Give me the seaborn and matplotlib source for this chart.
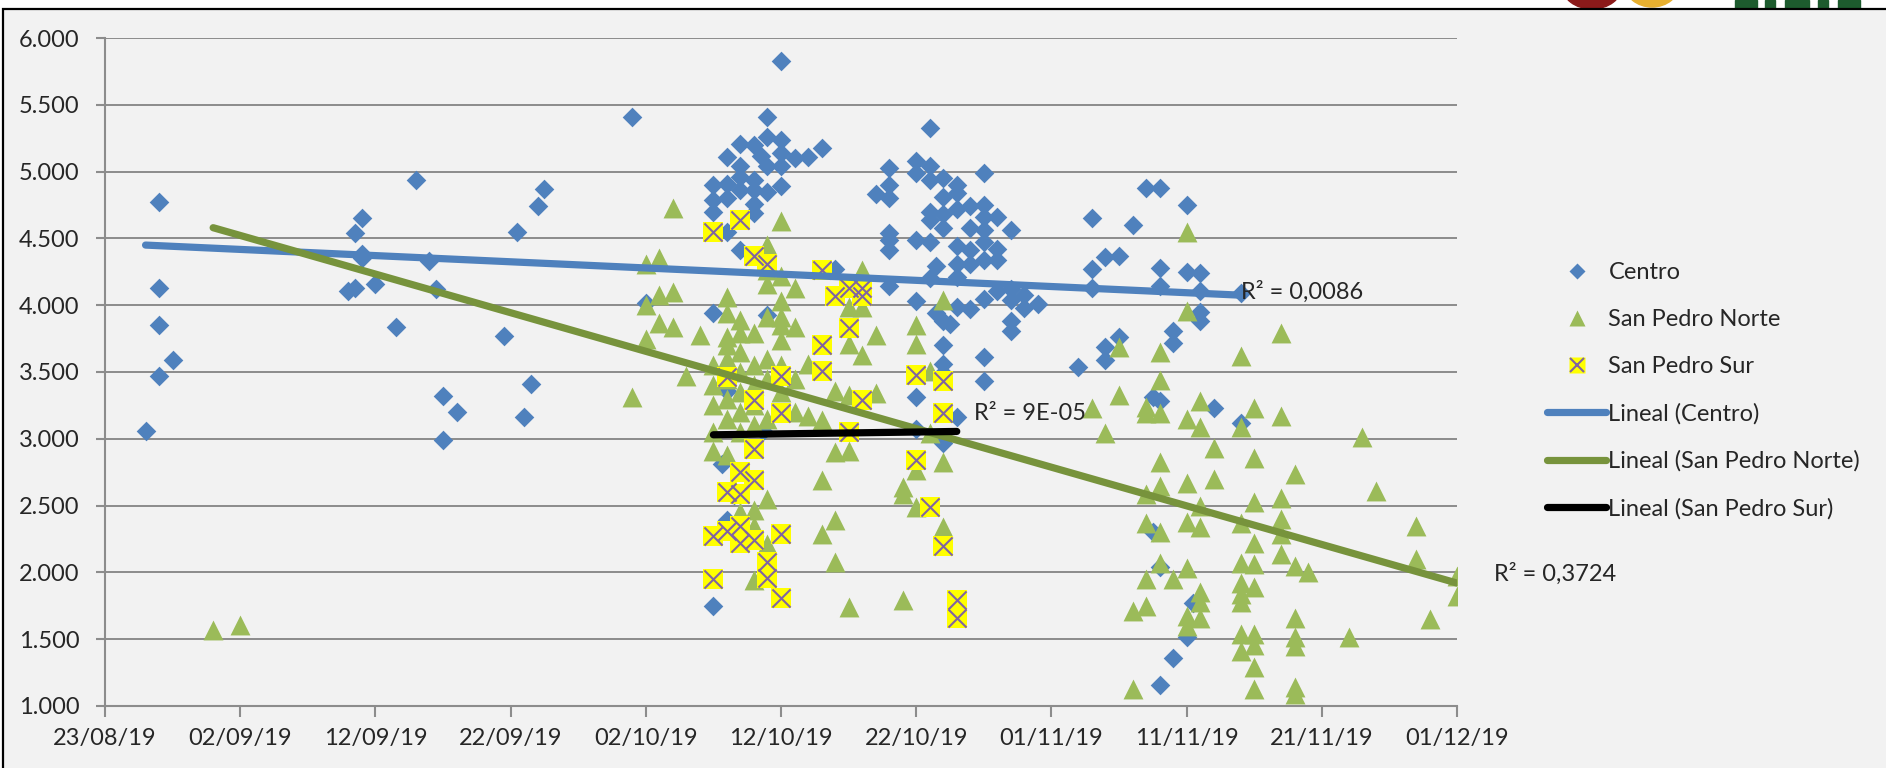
import matplotlib
matplotlib.use("Agg")
import matplotlib.pyplot as plt
import matplotlib.dates as mdates
from matplotlib.lines import Line2D
from matplotlib.patches import Rectangle, Ellipse
import seaborn as sns
import pandas as pd
import numpy as np

# (fecha mm-dd de 2019, valor)
centro = [
    ("08-26", 3.06),
    ("08-27", 4.77), ("08-27", 4.13), ("08-27", 3.85), ("08-27", 3.47),
    ("08-28", 3.59),
    ("09-10", 4.11), ("09-10 12:00", 4.13), ("09-10 12:00", 4.54),
    ("09-11", 4.65), ("09-11", 4.38), ("09-11", 4.35),
    ("09-12", 4.16), ("09-13 12:00", 3.84),
    ("09-15", 4.94), ("09-16", 4.33), ("09-16 12:00", 4.12),
    ("09-17", 3.32), ("09-17", 2.99), ("09-18", 3.20),
    ("09-21 12:00", 3.77), ("09-22 12:00", 4.55), ("09-23", 3.16), ("09-23 12:00", 3.41),
    ("09-24", 4.74), ("09-24 12:00", 4.87),
    ("10-01", 5.41), ("10-02", 4.02),
    ("10-07", 4.90), ("10-07", 4.79), ("10-07", 4.70), ("10-07", 3.94), ("10-07", 1.75), ("10-07 16:00", 2.81),
    ("10-08", 5.11), ("10-08", 4.91), ("10-08", 4.80), ("10-08", 4.55), ("10-08", 3.36), ("10-08", 2.39),
    ("10-08 12:00", 2.58),
    ("10-09", 5.21), ("10-09", 5.04), ("10-09", 4.96), ("10-09", 4.86), ("10-09", 4.41),
    ("10-10", 5.20), ("10-10", 4.94), ("10-10", 4.86), ("10-10", 4.76), ("10-10", 4.69),
    ("10-10 12:00", 5.12), ("10-10 16:00", 3.06),
    ("10-11", 5.41), ("10-11", 5.26), ("10-11", 5.04), ("10-11", 4.85), ("10-11", 3.93),
    ("10-12", 5.83), ("10-12", 5.24), ("10-12", 5.14), ("10-12", 5.04), ("10-12", 4.89),
    ("10-13", 5.10), ("10-14", 5.11), ("10-15", 5.18), ("10-16", 4.27),
    ("10-19", 4.83),
    ("10-20", 5.03), ("10-20", 4.90), ("10-20", 4.80), ("10-20", 4.54), ("10-20", 4.49), ("10-20", 4.41),
    ("10-20", 4.14),
    ("10-22", 5.08), ("10-22", 4.99), ("10-22", 4.49), ("10-22", 4.03), ("10-22", 3.31), ("10-22", 3.07),
    ("10-23", 5.33), ("10-23", 5.04), ("10-23", 4.94), ("10-23", 4.70), ("10-23", 4.64), ("10-23", 4.47),
    ("10-23", 4.20), ("10-23 12:00", 4.29), ("10-23 12:00", 3.94),
    ("10-24", 4.95), ("10-24", 4.81), ("10-24", 4.68), ("10-24", 4.58), ("10-24", 3.88), ("10-24", 3.70),
    ("10-24", 3.56), ("10-24", 3.49), ("10-24", 2.97), ("10-24 12:00", 3.86),
    ("10-25", 4.90), ("10-25", 4.84), ("10-25", 4.72), ("10-25", 4.44), ("10-25", 4.31), ("10-25", 4.21),
    ("10-25", 3.99), ("10-25", 3.16),
    ("10-26", 4.74), ("10-26", 4.58), ("10-26", 4.41), ("10-26", 4.31), ("10-26", 3.97),
    ("10-27", 4.99), ("10-27", 4.75), ("10-27", 4.66), ("10-27", 4.56), ("10-27", 4.47), ("10-27", 4.34),
    ("10-27", 4.05), ("10-27", 3.61), ("10-27", 3.43),
    ("10-28", 4.66), ("10-28", 4.42), ("10-28", 4.34), ("10-28", 4.11),
    ("10-29", 4.56), ("10-29", 4.12), ("10-29", 4.04), ("10-29", 3.88), ("10-29", 3.81),
    ("10-30", 4.08), ("10-30", 3.98), ("10-31", 4.01),
    ("11-03", 3.54),
    ("11-04", 4.65), ("11-04", 4.27), ("11-04", 4.13),
    ("11-05", 4.36), ("11-05", 3.69), ("11-05", 3.59),
    ("11-06", 4.37), ("11-06", 3.76),
    ("11-07", 4.60),
    ("11-08", 4.88), ("11-08 12:00", 3.31), ("11-08 12:00", 2.30),
    ("11-09", 4.88), ("11-09", 4.28), ("11-09", 4.14), ("11-09", 3.28), ("11-09", 2.04), ("11-09", 1.16),
    ("11-10", 3.81), ("11-10", 3.72), ("11-10", 1.36),
    ("11-11", 4.75), ("11-11", 4.25), ("11-11", 1.52), ("11-11 12:00", 1.77),
    ("11-12", 4.24), ("11-12", 4.11), ("11-12", 3.95), ("11-12", 3.88),
    ("11-13", 3.23),
    ("11-15", 4.09), ("11-15", 3.12),
]

norte = [
    ("08-31", 1.57), ("09-02", 1.61),
    ("10-01", 3.31),
    ("10-02", 4.31), ("10-02", 4.00), ("10-02", 3.75),
    ("10-03", 4.35), ("10-03", 4.08), ("10-03", 3.87),
    ("10-04", 4.73), ("10-04", 4.10), ("10-04", 3.84),
    ("10-05", 3.47), ("10-06", 3.78),
    ("10-07", 3.55), ("10-07", 3.40), ("10-07", 3.25), ("10-07", 3.05), ("10-07", 2.91),
    ("10-08", 4.06), ("10-08", 3.94), ("10-08", 3.76), ("10-08", 3.70), ("10-08", 3.60), ("10-08", 3.45),
    ("10-08", 3.30), ("10-08", 3.15), ("10-08", 2.88),
    ("10-09", 3.89), ("10-09", 3.79), ("10-09", 3.65), ("10-09", 3.50), ("10-09", 3.35), ("10-09", 3.20),
    ("10-09", 3.05), ("10-09", 2.45),
    ("10-10", 3.79), ("10-10", 3.55), ("10-10", 3.40), ("10-10", 3.25), ("10-10", 3.10), ("10-10", 2.47),
    ("10-10", 2.35), ("10-10", 1.94),
    ("10-11", 4.45), ("10-11", 4.26), ("10-11", 4.16), ("10-11", 3.91), ("10-11", 3.60), ("10-11", 3.45),
    ("10-11", 3.15), ("10-11", 2.55), ("10-11", 2.21),
    ("10-12", 4.63), ("10-12", 4.22), ("10-12", 4.03), ("10-12", 3.91), ("10-12", 3.85), ("10-12", 3.74),
    ("10-12", 3.55), ("10-12", 3.35),
    ("10-13", 4.13), ("10-13", 3.84), ("10-13", 3.45), ("10-13", 3.20),
    ("10-14", 3.56), ("10-14", 3.17),
    ("10-15", 3.14), ("10-15", 2.69), ("10-15", 2.29),
    ("10-16", 3.36), ("10-16", 2.90), ("10-16", 2.39), ("10-16", 2.08),
    ("10-17", 3.99), ("10-17", 3.71), ("10-17", 3.33), ("10-17", 2.91), ("10-17", 1.74),
    ("10-18", 4.26), ("10-18", 3.99), ("10-18", 3.63),
    ("10-19", 3.78), ("10-19", 3.34),
    ("10-21", 2.64), ("10-21", 2.59), ("10-21", 1.79),
    ("10-22", 3.85), ("10-22", 3.71), ("10-22", 2.77), ("10-22", 2.49),
    ("10-23", 3.51), ("10-23", 3.04),
    ("10-24", 4.04), ("10-24", 2.83), ("10-24", 2.34),
    ("11-04", 3.23), ("11-05", 3.04),
    ("11-06", 3.69), ("11-06", 3.33),
    ("11-07", 1.71), ("11-07", 1.13),
    ("11-08", 3.24), ("11-08", 3.19), ("11-08", 2.59), ("11-08", 2.37), ("11-08", 1.95), ("11-08", 1.75),
    ("11-09", 3.65), ("11-09", 3.44), ("11-09", 3.19), ("11-09", 2.83), ("11-09", 2.65), ("11-09", 2.30),
    ("11-09", 2.07),
    ("11-10", 1.95),
    ("11-11", 4.55), ("11-11", 3.96), ("11-11", 3.15), ("11-11", 2.67), ("11-11", 2.38), ("11-11", 2.03),
    ("11-11", 1.67), ("11-11", 1.60),
    ("11-12", 3.28), ("11-12", 3.09), ("11-12", 2.50), ("11-12", 2.34), ("11-12", 1.85), ("11-12", 1.78),
    ("11-12", 1.66),
    ("11-13", 2.93), ("11-13", 2.70),
    ("11-15", 3.62), ("11-15", 3.09), ("11-15", 2.37), ("11-15", 2.07), ("11-15", 1.92), ("11-15", 1.84),
    ("11-15", 1.78), ("11-15", 1.54), ("11-15", 1.41),
    ("11-16", 3.23), ("11-16", 2.86), ("11-16", 2.53), ("11-16", 2.22), ("11-16", 2.06), ("11-16", 1.89),
    ("11-16", 1.54), ("11-16", 1.46), ("11-16", 1.29), ("11-16", 1.13),
    ("11-18", 3.79), ("11-18", 3.17), ("11-18", 2.56), ("11-18", 2.40), ("11-18", 2.29), ("11-18", 2.14),
    ("11-19", 2.74), ("11-19", 2.05), ("11-19", 1.66), ("11-19", 1.52), ("11-19", 1.45), ("11-19", 1.14),
    ("11-19", 1.09),
    ("11-20", 2.00), ("11-23", 1.52), ("11-24", 3.01), ("11-25", 2.61),
    ("11-28", 2.35), ("11-28", 2.10), ("11-29", 1.65),
    ("12-01", 1.97), ("12-01", 1.82),
]

sur = [
    ("10-07", 4.55), ("10-07", 2.27), ("10-07", 1.95),
    ("10-08", 3.46), ("10-08", 2.60), ("10-08", 2.31),
    ("10-09", 4.64), ("10-09", 2.75), ("10-09", 2.59), ("10-09", 2.35), ("10-09", 2.22),
    ("10-10", 4.37), ("10-10", 3.29), ("10-10", 2.92), ("10-10", 2.69), ("10-10", 2.24),
    ("10-11", 4.31), ("10-11", 2.08), ("10-11", 1.96),
    ("10-12", 3.47), ("10-12", 3.19), ("10-12", 2.29), ("10-12", 1.81),
    ("10-15", 4.26), ("10-15", 3.70), ("10-15", 3.51),
    ("10-16", 4.07),
    ("10-17", 4.13), ("10-17", 3.83), ("10-17", 3.05),
    ("10-18", 4.13), ("10-18", 4.07), ("10-18", 3.29),
    ("10-22", 3.48), ("10-22", 2.84),
    ("10-23", 2.49),
    ("10-24", 3.43), ("10-24", 3.19), ("10-24", 2.20),
    ("10-25", 1.79), ("10-25", 1.66),
]

# lineas de tendencia (extremos) y R²
tend_centro = [("08-26", 4.45), ("11-15", 4.075)]
tend_norte = [("08-31", 4.58), ("12-01", 1.92)]
tend_sur = [("10-07", 3.03), ("10-25", 3.055)]
r2_textos = ["R² = 0,0086", "R² = 9E-05", "R² = 0,3724"]
r2_pos = [("11-15", 4.10), ("10-26 06:00", 3.19), ("12-03 18:00", 1.99)]

x_ticks = pd.date_range("2019-08-23", "2019-12-01", freq="10D")
y_ticks = np.arange(1.0, 6.01, 0.5)

AZUL, VERDE, VERDE_OSC, AMARILLO, MORADO = "#4F81BD", "#9BBB59", "#77933C", "#FFFF00", "#8064A2"


def fecha(s):
    return pd.to_datetime("2019-" + pd.Series(s), format="mixed")


def to_df(pares):
    df = pd.DataFrame(pares, columns=["fecha", "valor"])
    df["fecha"] = fecha(df["fecha"]).values
    return df


sns.set_style("white")
plt.rcParams["font.family"] = ["Lato", "DejaVu Sans"]

W, H = 1886, 768
fig = plt.figure(figsize=(W / 100, H / 100), dpi=100, facecolor="white")

# restos del logo cortado arriba y marco
fig.add_artist(Ellipse((1592 / W, 1 + 14 / H), 60 / W, 46 / H, transform=fig.transFigure,
                       color="#8B1A1A", zorder=-3))
fig.add_artist(Ellipse((1652 / W, 1 + 16 / H), 55 / W, 46 / H, transform=fig.transFigure,
                       color="#E8B030", zorder=-3))
for x0, w in [(1735, 22), (1765, 10), (1785, 24), (1818, 10), (1838, 22)]:
    fig.add_artist(Rectangle((x0 / W, 1 - 8 / H), w / W, 8 / H, transform=fig.transFigure,
                             color="#1D5B2E", zorder=-3))
fig.add_artist(Rectangle((3 / W, -0.05), 1.1, 1 - 9 / H + 0.05, transform=fig.transFigure,
                         facecolor="#F2F2F2", edgecolor="black", lw=1.6, zorder=-1))

ax = fig.add_axes([105 / W, 62 / H, 1352 / W, 668 / H])
ax.patch.set_visible(False)

d_centro, d_norte, d_sur = to_df(centro), to_df(norte), to_df(sur)

sns.scatterplot(data=d_centro, x="fecha", y="valor", marker="D", s=100, color=AZUL,
                linewidth=0, ax=ax, zorder=3)
sns.scatterplot(data=d_norte, x="fecha", y="valor", marker="^", s=205, color=VERDE,
                linewidth=0, ax=ax, zorder=4)
sns.scatterplot(data=d_sur, x="fecha", y="valor", marker="s", s=200, color=AMARILLO,
                linewidth=0, ax=ax, zorder=5)
sns.scatterplot(data=d_sur, x="fecha", y="valor", marker="x", s=170, color=MORADO,
                linewidth=1.5, ax=ax, zorder=6)

for tend, col in [(tend_centro, AZUL), (tend_norte, VERDE_OSC), (tend_sur, "black")]:
    t = to_df(tend)
    sns.lineplot(data=t, x="fecha", y="valor", color=col, lw=5.2, ax=ax, zorder=7,
                 solid_capstyle="round")

for txt, (f, v) in zip(r2_textos, r2_pos):
    ax.text(mdates.date2num(fecha([f])[0]), v, txt, fontsize=17,
            va="center", ha="left", zorder=8, clip_on=False)

ax.set_xlim(x_ticks[0], x_ticks[-1])
ax.set_ylim(1, 6)
ax.set_xticks(x_ticks)
ax.xaxis.set_major_formatter(mdates.DateFormatter("%d/%m/%y"))
ax.set_yticks(y_ticks)
ax.set_yticklabels([f"{v:.3f}" for v in y_ticks])
ax.set_xlabel("")
ax.set_ylabel("")

ax.yaxis.grid(True, color="#8C8C8C", lw=1.4)
ax.xaxis.grid(False)
ax.set_axisbelow(True)
for s in ["top", "right"]:
    ax.spines[s].set_visible(False)
for s in ["left", "bottom"]:
    ax.spines[s].set_color("#8C8C8C")
    ax.spines[s].set_linewidth(1.5)
ax.tick_params(axis="x", length=8, width=1.5, color="#8C8C8C", pad=8, labelsize=17,
               bottom=True)
ax.tick_params(axis="y", length=6.5, width=1.5, color="#8C8C8C", pad=12, labelsize=17,
               left=True)

handles = [
    Line2D([], [], ls="none", marker="D", ms=8.5, color=AZUL, mec="none"),
    Line2D([], [], ls="none", marker="^", ms=12, color=VERDE, mec="none"),
    (Line2D([], [], ls="none", marker="s", ms=12, color=AMARILLO, mec="none"),
     Line2D([], [], ls="none", marker="x", ms=10, color=MORADO, mew=1.5)),
    Line2D([], [], color=AZUL, lw=5.2, solid_capstyle="round"),
    Line2D([], [], color=VERDE_OSC, lw=5.2, solid_capstyle="round"),
    Line2D([], [], color="black", lw=5.2, solid_capstyle="round"),
]
labels = ["Centro", "San Pedro Norte", "San Pedro Sur", "Lineal (Centro)",
          "Lineal (San Pedro Norte)", "Lineal (San Pedro Sur)"]
fig.legend(handles, labels, loc="upper left", bbox_to_anchor=(1547 / W, 1 - 262 / H),
           frameon=False, fontsize=17, handlelength=2.5, handletextpad=0.1,
           labelspacing=1.1, borderpad=0, borderaxespad=0)

fig.savefig("out.png", dpi=100, facecolor="white")
